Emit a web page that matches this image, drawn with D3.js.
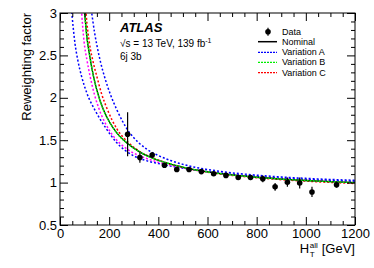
<!DOCTYPE html>
<html lang="en">
<head>
<meta charset="UTF-8">
<title>Reweighting factor vs HT</title>
<script src="https://d3js.org/d3.v7.min.js"></script>
<style>
  body { margin: 0; background: #fff; }
  svg text { font-family: "Liberation Sans", Arial, Helvetica, sans-serif; fill: #000; }
</style>
</head>
<body>
<script>
// data points: bin centre, value, stat. error
const dataX   = [275, 325, 375, 425, 475, 525, 575, 625, 675, 725, 775, 825, 875, 925, 975, 1025, 1125];
const dataY   = [1.57, 1.295, 1.325, 1.205, 1.155, 1.155, 1.13, 1.105, 1.085, 1.06, 1.06, 1.045, 0.95, 1.005, 0.995, 0.89, 0.975];
const dataErr = [0.26, 0.06, 0.035, 0.02, 0.02, 0.02, 0.02, 0.02, 0.025, 0.025, 0.03, 0.04, 0.045, 0.055, 0.065, 0.06, 0.035];

// fit curves, [HT, factor]
const nominal = [[97,3.08],[100,3.0],[110,2.70],[120,2.51],[135,2.27],[150,2.09],[175,1.87],[200,1.72],[230,1.59],[275,1.46],[325,1.36],[375,1.29],[425,1.24],[475,1.20],[525,1.165],[600,1.127],[700,1.09],[800,1.063],[900,1.042],[1000,1.025],[1100,1.011],[1200,1.0]];
const varAup = [[127,3.04],[129,3.0],[140,2.78],[150,2.62],[165,2.42],[184,2.22],[205,2.04],[231,1.86],[255,1.72],[280,1.60],[300,1.53],[320,1.47],[350,1.40],[400,1.32],[450,1.26],[500,1.215],[550,1.18],[600,1.155],[700,1.115],[800,1.088],[900,1.066],[1000,1.05],[1100,1.037],[1200,1.027]];
const varAdown = [[46,3.06],[48,3.0],[54,2.82],[61,2.64],[72,2.45],[88,2.25],[110,2.05],[143,1.85],[185,1.65],[231,1.47],[265,1.38],[300,1.315],[350,1.26],[400,1.225],[450,1.195],[500,1.17],[600,1.13],[700,1.097],[800,1.072],[900,1.052],[1000,1.037],[1100,1.025],[1200,1.015]];
const varB = nominal.map(d => [d[0], d[1]]);
const varCdown = [[87,3.04],[88,3.0],[98,2.66],[110,2.44],[122,2.26],[140,2.04],[160,1.86],[200,1.62],[245,1.46],[275,1.39],[325,1.315],[375,1.262],[425,1.222],[475,1.19],[525,1.162],[600,1.127],[700,1.092],[800,1.065],[900,1.044],[1000,1.027],[1100,1.013],[1200,1.0]];
const varCup = [[105,3.04],[106,3.0],[120,2.64],[135,2.42],[150,2.25],[170,2.04],[193,1.86],[230,1.64],[279,1.47],[325,1.365],[375,1.295],[425,1.24],[475,1.197],[525,1.163],[600,1.123],[700,1.085],[800,1.057],[900,1.035],[1000,1.017],[1100,1.002],[1200,0.99]];

// axis ticks
const xTicks = [0, 200, 400, 600, 800, 1000, 1200];
const yTicks = [0.5, 1, 1.5, 2, 2.5, 3];
const xMinor = d3.range(0, 1201, 50).filter(v => v % 200 !== 0);
const yMinor = d3.range(5, 31, 1).map(v => v / 10).filter(v => Math.round(v * 10) % 5 !== 0);

const legendLabels = ["Data", "Nominal", "Variation A", "Variation B", "Variation C"];

const margin = { top: 13, right: 19, bottom: 43, left: 60 };
const width = 374 - margin.left - margin.right;
const height = 268 - margin.top - margin.bottom;

const x = d3.scaleLinear().domain([0, 1200]).range([0, width]);
const y = d3.scaleLinear().domain([0.5, 3]).range([height, 0]);

const svg = d3.select("body")
  .append("svg")
    .attr("width", 374)
    .attr("height", 268)
  .append("g")
    .attr("transform", "translate(" + margin.left + "," + margin.top + ")");

svg.append("clipPath").attr("id", "frame")
  .append("rect").attr("width", width).attr("height", height);

// curves
const line = d3.line()
  .x(d => x(d[0]))
  .y(d => y(d[1]))
  .curve(d3.curveMonotoneX);

const curves = svg.append("g").attr("clip-path", "url(#frame)");
const styles = [
  { d: varAup,   color: "#0000ff", dash: "2,2", w: 1.5 },
  { d: varAdown, color: "#0000ff", dash: "2,2", w: 1.5 },
  { d: varCdown, color: "#ff00ff", dash: "2,2", w: 1.5 },
  { d: varCup,   color: "#ff0000", dash: "2,2", w: 1.5 },
  { d: nominal,  color: "#000000", dash: null,  w: 1.3 },
  { d: varB,     color: "#00ee00", dash: "2,1", w: 1.5 }
];
styles.forEach(s => {
  curves.append("path")
    .datum(s.d)
    .attr("d", line)
    .attr("fill", "none")
    .attr("stroke", s.color)
    .attr("stroke-width", s.w)
    .attr("stroke-dasharray", s.dash);
});

// axes (ROOT style, ticks inside on all four sides)
function styleAxis(g) {
  g.select(".domain").remove();
  g.selectAll("line").attr("stroke", "#000");
  g.selectAll("text").style("font-size", "13px");
}

svg.append("g").attr("transform", "translate(0," + height + ")")
  .call(d3.axisBottom(x).tickValues(xTicks).tickSize(-8).tickPadding(4).tickFormat(d3.format("d")))
  .call(styleAxis);
svg.append("g").attr("transform", "translate(0," + height + ")")
  .call(d3.axisBottom(x).tickValues(xMinor).tickSize(-4).tickFormat(""))
  .call(styleAxis);
svg.append("g")
  .call(d3.axisTop(x).tickValues(xTicks).tickSize(-8).tickFormat(""))
  .call(styleAxis);
svg.append("g")
  .call(d3.axisTop(x).tickValues(xMinor).tickSize(-4).tickFormat(""))
  .call(styleAxis);

svg.append("g")
  .call(d3.axisLeft(y).tickValues(yTicks).tickSize(-8).tickPadding(3).tickFormat(d => d))
  .call(styleAxis);
svg.append("g")
  .call(d3.axisLeft(y).tickValues(yMinor).tickSize(-4).tickFormat(""))
  .call(styleAxis);
svg.append("g").attr("transform", "translate(" + width + ",0)")
  .call(d3.axisRight(y).tickValues(yTicks).tickSize(-8).tickFormat(""))
  .call(styleAxis);
svg.append("g").attr("transform", "translate(" + width + ",0)")
  .call(d3.axisRight(y).tickValues(yMinor).tickSize(-4).tickFormat(""))
  .call(styleAxis);

svg.append("rect")
  .attr("width", width).attr("height", height)
  .attr("fill", "none").attr("stroke", "#000").attr("stroke-width", 1);

// data points
const pts = svg.append("g");
pts.selectAll("line")
  .data(dataX)
  .enter()
  .append("line")
    .attr("x1", d => x(d)).attr("x2", d => x(d))
    .attr("y1", (d, i) => y(dataY[i] + dataErr[i]))
    .attr("y2", (d, i) => y(dataY[i] - dataErr[i]))
    .attr("stroke", "#000").attr("stroke-width", 1.2);
pts.selectAll("circle")
  .data(dataX)
  .enter()
  .append("circle")
    .attr("cx", d => x(d))
    .attr("cy", (d, i) => y(dataY[i]))
    .attr("r", 2.8)
    .attr("fill", "#000");

// axis titles
svg.append("text")
  .attr("transform", "translate(-29,0) rotate(-90)")
  .attr("text-anchor", "end")
  .style("font-size", "13px")
  .text("Reweighting factor");

const gev = svg.append("text")
  .attr("x", width).attr("y", 240)
  .attr("text-anchor", "end")
  .style("font-size", "13px")
  .text("[GeV]");
const gevStart = width - gev.node().getComputedTextLength();
svg.append("text").attr("x", gevStart - 12).attr("y", 234.5).style("font-size", "8px").text("all");
svg.append("text").attr("x", gevStart - 12).attr("y", 243.5).style("font-size", "8px").text("T");
svg.append("text").attr("x", gevStart - 12.5).attr("y", 240)
  .attr("text-anchor", "end").style("font-size", "13px").text("H");

// ATLAS label
svg.append("text")
  .attr("x", 60).attr("y", 19)
  .style("font-size", "13px").style("font-weight", "bold").style("font-style", "italic")
  .text("ATLAS");
const lumi = svg.append("text")
  .attr("x", 60).attr("y", 34)
  .style("font-size", "10px");
lumi.append("tspan").text("\u221As = 13 TeV, 139 fb");
lumi.append("tspan").attr("dy", -4).style("font-size", "7px").text("-1");
svg.append("text")
  .attr("x", 60).attr("y", 47)
  .style("font-size", "10px")
  .text("6j 3b");

// legend
const legendY = [18.7, 28.7, 39.3, 49.3, 59.7];
const legendColor = [null, "#000", "#0000ff", "#00ee00", "#ff0000"];
const leg = svg.append("g").attr("transform", "translate(198,0)");
leg.selectAll("text")
  .data(legendLabels)
  .enter()
  .append("text")
    .attr("x", 24)
    .attr("y", (d, i) => legendY[i])
    .attr("dy", "0.35em")
    .style("font-size", "9px")
    .text(d => d);
legendLabels.forEach((d, i) => {
  if (i === 0) {
    leg.append("line").attr("x1", 10).attr("x2", 10)
      .attr("y1", legendY[i] - 4).attr("y2", legendY[i] + 4)
      .attr("stroke", "#000").attr("stroke-width", 1.2);
    leg.append("circle").attr("cx", 10).attr("cy", legendY[i]).attr("r", 2.8).attr("fill", "#000");
  } else {
    leg.append("line").attr("x1", 0).attr("x2", 19)
      .attr("y1", legendY[i]).attr("y2", legendY[i])
      .attr("stroke", legendColor[i])
      .attr("stroke-width", i === 1 ? 1.5 : 1.2)
      .attr("stroke-dasharray", i === 1 ? null : "2,1");
  }
});
</script>
</body>
</html>
